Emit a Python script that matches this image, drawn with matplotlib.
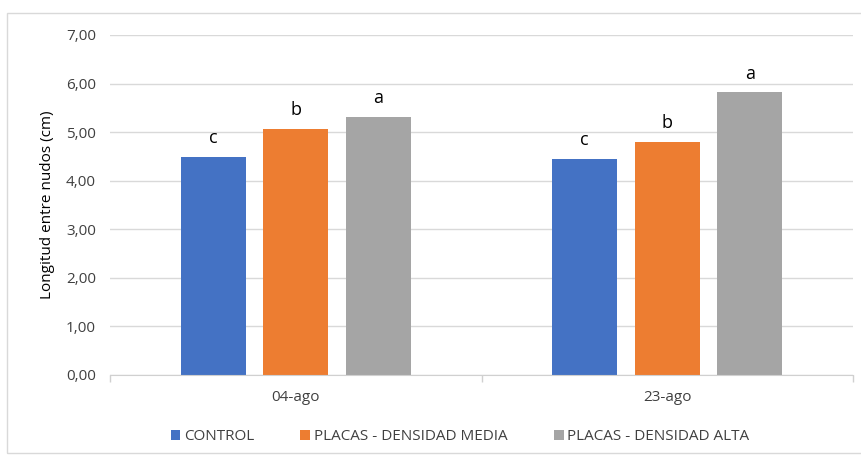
import matplotlib.pyplot as plt
import numpy as np
from matplotlib.patches import Rectangle

fechas = ["04-ago", "23-ago"]
series = ["CONTROL", "PLACAS - DENSIDAD MEDIA", "PLACAS - DENSIDAD ALTA"]
control = [4.49, 4.45]
densidad_media = [5.07, 4.80]
densidad_alta = [5.32, 5.82]
letras = [["c", "c"], ["b", "b"], ["a", "a"]]
colores = ["#4472C4", "#ED7D31", "#A5A5A5"]

plt.rcParams['font.family'] = ['Open Sans', 'DejaVu Sans']

fig = plt.figure(figsize=(8.62, 4.55), dpi=100)
ax = fig.add_axes([110 / 862, 1 - 375 / 455, 743 / 862, 340 / 455])

x = np.arange(len(fechas))
ancho = 0.175
desplaz = 0.222
for i, (vals, nombre) in enumerate(zip([control, densidad_media, densidad_alta], series)):
    pos = x + (i - 1) * desplaz
    ax.bar(pos, vals, width=ancho, color=colores[i], label=nombre, zorder=2)
    for p, v, l in zip(pos, vals, letras[i]):
        ax.text(p, v + 0.2, l, ha='center', va='bottom', fontsize=13, color='black')

ax.set_xlim(-0.5, 1.5)
ax.set_ylim(0, 7)
ax.set_yticks(np.arange(0, 7.01, 1))
ax.set_yticklabels([f"{v:.2f}".replace(".", ",") for v in np.arange(0, 7.01, 1)],
                   fontsize=11, color='#404040')
ax.set_xticks(x)
ax.set_xticklabels(fechas, fontsize=11, color='#404040')
ax.tick_params(axis='x', length=0, pad=11)
ax.tick_params(axis='y', length=0, pad=10)
ax.set_xticks([-0.5, 0.5, 1.5], minor=True)
ax.tick_params(axis='x', which='minor', length=5, color='#D0D0D0', width=1)
ax.yaxis.grid(True, color='#D9D9D9', linewidth=1, zorder=0)
ax.set_axisbelow(True)
for s in ['top', 'right', 'left']:
    ax.spines[s].set_visible(False)
ax.spines['bottom'].set_color('#D0D0D0')
ax.spines['bottom'].set_zorder(3)
ax.set_ylabel("Longitud entre nudos (cm)", fontsize=11, color='black', labelpad=8)

fig.legend(loc='center', bbox_to_anchor=(460 / 862, 1 - 437 / 455), ncol=3, frameon=False,
           fontsize=11, handlelength=0.65, handleheight=0.65, columnspacing=3.0, handletextpad=0.25,
           labelcolor='#404040')

fig.patches.append(Rectangle((7 / 862, 2 / 455), 860 / 862, 440 / 455, transform=fig.transFigure,
                             fill=False, edgecolor='#D9D9D9', linewidth=1))

fig.savefig("out.png", dpi=100)
